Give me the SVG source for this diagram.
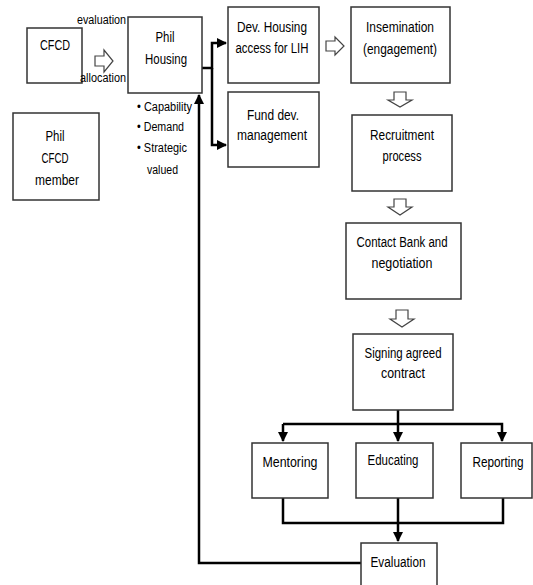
<svg xmlns="http://www.w3.org/2000/svg" width="533" height="585" viewBox="0 0 533 585">
<defs>
<style>
.box{fill:#fff;stroke:#333;stroke-width:1.5}
.t{font-family:"Liberation Sans",Arial,sans-serif;font-size:14px;fill:#000;text-anchor:middle}
.s{font-family:"Liberation Sans",Arial,sans-serif;font-size:12px;fill:#000}
.c{fill:none;stroke:#000;stroke-width:2.5}
.h{fill:#fff;stroke:#444;stroke-width:1.2}
</style>
<marker id="ah" viewBox="0 0 10 10" refX="9" refY="5" markerWidth="4" markerHeight="4" orient="auto" markerUnits="strokeWidth">
<path d="M0,0 L10,5 L0,10 z" fill="#000"/>
</marker>
</defs>
<rect width="533" height="585" fill="#fff"/>
<g id="connectors">
<path class="c" d="M202,68 H212 V43 H226" marker-end="url(#ah)"/>
<path class="c" d="M212,68 V145 H226" marker-end="url(#ah)"/>
<path class="c" d="M398,410 V441" marker-end="url(#ah)"/>
<path class="c" d="M283,424 H502 V441" marker-end="url(#ah)"/>
<path class="c" d="M283,424 V441" marker-end="url(#ah)"/>
<path class="c" d="M283,498 V523 H503 V496"/>
<path class="c" d="M398,498 V541" marker-end="url(#ah)"/>
<path class="c" d="M361,563 H199 V95" marker-end="url(#ah)"/>
<path class="h" d="M95,56 H104 V50 L113,61 L104,72 V66 H95 Z"/>
<path class="h" d="M326,41 H335 V37 L344,46 L335,55 V51 H326 Z"/>
<path class="h" d="M394,92 V100 H388 L400,107 L412,100 H406 V92 Z"/>
<path class="h" d="M394,199 V207 H388 L400,215 L412,207 H406 V199 Z"/>
<path class="h" d="M396,310 V319 H390 L402,327 L414,319 H408 V310 Z"/>
</g>
<g id="cfcd">
<rect class="box" x="27" y="28" width="55" height="55"/>
<text class="t" x="55" y="50" textLength="30" lengthAdjust="spacingAndGlyphs">CFCD</text>
</g>
<g id="labels">
<text class="s" x="77" y="24" textLength="49" lengthAdjust="spacingAndGlyphs">evaluation</text>
<text class="s" x="80" y="82" textLength="46" lengthAdjust="spacingAndGlyphs">allocation</text>
</g>
<g id="phil-housing">
<rect class="box" x="128" y="17" width="74" height="76"/>
<text class="t" x="165" y="42" textLength="19" lengthAdjust="spacingAndGlyphs">Phil</text>
<text class="t" x="166" y="64" textLength="42" lengthAdjust="spacingAndGlyphs">Housing</text>
</g>
<g id="bullets">
<text class="s" x="137" y="111" textLength="55" lengthAdjust="spacingAndGlyphs">• Capability</text>
<text class="s" x="137" y="131" textLength="47" lengthAdjust="spacingAndGlyphs">• Demand</text>
<text class="s" x="137" y="152" textLength="50" lengthAdjust="spacingAndGlyphs">• Strategic</text>
<text class="s" x="147" y="174" textLength="31" lengthAdjust="spacingAndGlyphs">valued</text>
</g>
<g id="phil-cfcd-member">
<rect class="box" x="13" y="113" width="86" height="87"/>
<text class="t" x="55" y="141" textLength="19" lengthAdjust="spacingAndGlyphs">Phil</text>
<text class="t" x="55" y="163" textLength="27" lengthAdjust="spacingAndGlyphs">CFCD</text>
<text class="t" x="57" y="185" textLength="44" lengthAdjust="spacingAndGlyphs">member</text>
</g>
<g id="dev-housing">
<rect class="box" x="228" y="7" width="91" height="76"/>
<text class="t" x="272" y="32" textLength="70" lengthAdjust="spacingAndGlyphs">Dev. Housing</text>
<text class="t" x="272" y="53" textLength="73" lengthAdjust="spacingAndGlyphs">access for LIH</text>
</g>
<g id="fund-dev">
<rect class="box" x="228" y="92" width="91" height="75"/>
<text class="t" x="273" y="120" textLength="52" lengthAdjust="spacingAndGlyphs">Fund dev.</text>
<text class="t" x="272" y="140" textLength="70" lengthAdjust="spacingAndGlyphs">management</text>
</g>
<g id="insemination">
<rect class="box" x="351" y="7" width="99" height="76"/>
<text class="t" x="400" y="32" textLength="68" lengthAdjust="spacingAndGlyphs">Insemination</text>
<text class="t" x="400" y="54" textLength="74" lengthAdjust="spacingAndGlyphs">(engagement)</text>
</g>
<g id="recruitment">
<rect class="box" x="352" y="115" width="100" height="76"/>
<text class="t" x="402" y="140" textLength="64" lengthAdjust="spacingAndGlyphs">Recruitment</text>
<text class="t" x="402" y="161" textLength="39" lengthAdjust="spacingAndGlyphs">process</text>
</g>
<g id="contact-bank">
<rect class="box" x="346" y="223" width="115" height="76"/>
<text class="t" x="402" y="247" textLength="91" lengthAdjust="spacingAndGlyphs">Contact Bank and</text>
<text class="t" x="402" y="268" textLength="61" lengthAdjust="spacingAndGlyphs">negotiation</text>
</g>
<g id="signing">
<rect class="box" x="353" y="334" width="100" height="76"/>
<text class="t" x="403" y="358" textLength="77" lengthAdjust="spacingAndGlyphs">Signing agreed</text>
<text class="t" x="403" y="378" textLength="44" lengthAdjust="spacingAndGlyphs">contract</text>
</g>
<g id="mentoring">
<rect class="box" x="252" y="443" width="76" height="55"/>
<text class="t" x="290" y="467" textLength="55" lengthAdjust="spacingAndGlyphs">Mentoring</text>
</g>
<g id="educating">
<rect class="box" x="356" y="443" width="77" height="55"/>
<text class="t" x="393" y="465" textLength="51" lengthAdjust="spacingAndGlyphs">Educating</text>
</g>
<g id="reporting">
<rect class="box" x="461" y="443" width="71" height="55"/>
<text class="t" x="498" y="467" textLength="51" lengthAdjust="spacingAndGlyphs">Reporting</text>
</g>
<g id="evaluation">
<rect class="box" x="361" y="543" width="76" height="50"/>
<text class="t" x="398" y="567" textLength="55" lengthAdjust="spacingAndGlyphs">Evaluation</text>
</g>
</svg>
